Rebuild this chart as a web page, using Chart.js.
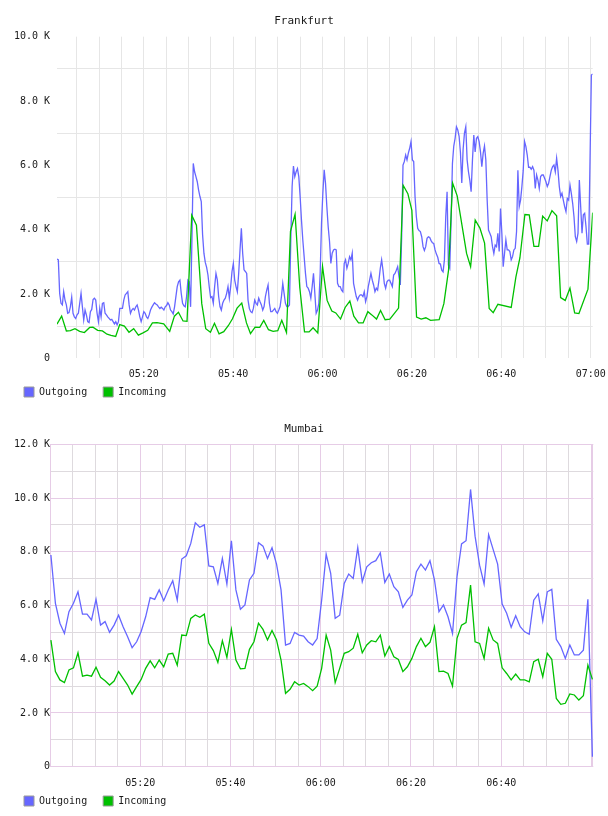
<!DOCTYPE html>
<html><head><meta charset="utf-8">
<script src="https://cdn.jsdelivr.net/npm/chart.js@4.4.1/dist/chart.umd.min.js"></script>
<style>
html,body{margin:0;padding:0;background:#fff;overflow:hidden;width:608px;height:816px;}
canvas{position:absolute;left:0;}
</style></head><body>
<canvas id="fra" width="608" height="407" style="top:0"></canvas>
<canvas id="mum" width="608" height="407" style="top:409px"></canvas>
<script>
// x values are minutes after 05:00, y values are in thousands (K)
const START_HOUR = 5;
const xLabelTimes = ['05:20','05:40','06:00','06:20','06:40','07:00'];
const seriesNames = ['Outgoing','Incoming'];
const seriesColors = ['#6666ff','#00c000'];

// Frankfurt outgoing: evenly spaced samples from first to last time
const frankfurtOutgoingFirst = 0.59, frankfurtOutgoingLast = 120.45;
const frankfurtOutgoing = [
3.09,3.06,2.02,1.71,1.66,2.07,1.81,1.66,1.40,1.42,
1.60,1.90,1.40,1.29,1.24,1.35,1.40,1.71,2.02,1.60,
1.19,1.50,1.35,1.14,1.11,1.45,1.52,1.83,1.87,1.81,
1.40,1.14,1.55,1.29,1.71,1.73,1.40,1.35,1.29,1.24,
1.19,1.21,1.14,1.07,1.14,1.04,1.14,1.55,1.55,1.55,
1.81,1.97,2.02,2.07,1.66,1.40,1.50,1.55,1.50,1.60,
1.66,1.50,1.29,1.14,1.29,1.45,1.40,1.29,1.24,1.35,
1.50,1.59,1.66,1.73,1.69,1.66,1.60,1.55,1.59,1.55,
1.50,1.60,1.64,1.73,1.66,1.50,1.45,1.38,1.60,1.92,
2.23,2.38,2.43,2.02,1.71,1.63,1.60,1.92,2.43,2.38,
1.60,3.68,6.06,
5.80,5.65,5.49,5.23,5.03,4.87,3.83,3.26,2.98,2.83,
2.59,2.21,1.89,1.92,1.71,2.23,2.64,2.44,1.92,1.61,
1.50,1.71,1.81,1.87,2.02,2.23,1.87,2.23,2.70,2.95,
2.44,2.23,2.07,2.64,3.37,4.04,3.26,2.75,2.70,2.64,
1.81,1.55,1.45,1.42,1.55,1.81,1.71,1.66,1.87,1.76,
1.66,1.50,1.61,1.92,2.12,2.28,1.71,1.45,1.45,1.50,
1.55,1.45,1.40,1.50,1.61,1.92,2.33,2.02,1.71,1.61,
1.61,1.66,3.68,5.34,5.98,5.65,5.80,5.90,5.65,5.03,
4.30,3.68,3.16,2.64,2.23,2.18,2.07,1.87,2.23,2.64,
2.02,1.40,1.50,1.71,2.64,4.19,5.13,5.86,5.44,4.71,
4.09,
3.63,2.95,3.27,3.37,3.39,3.37,2.33,2.23,2.23,2.12,
2.07,2.95,3.06,2.80,2.95,3.16,3.06,3.27,2.33,2.12,
1.92,1.81,1.92,1.97,1.97,1.92,2.07,1.76,1.92,2.23,
2.43,2.64,2.43,2.28,2.07,2.18,2.12,2.43,2.80,3.06,
2.74,2.33,2.18,2.38,2.43,2.43,2.33,2.23,2.59,2.64,
2.74,2.85,2.54,2.28,3.78,6.01,6.12,6.32,6.17,6.38,
6.53,6.74,6.17,6.12,5.03,4.40,4.04,3.97,3.94,3.78,
3.47,3.35,3.47,3.73,3.78,3.76,3.66,3.59,3.57,3.37,
3.24,3.14,2.95,2.93,2.74,2.69,3.06,4.40,5.18,2.90,
2.80,4.30,6.06,6.60,6.84,7.20,7.10,6.90,6.40,5.45,
6.50,7.00,
7.20,6.17,5.80,5.54,5.18,6.17,6.94,6.42,6.84,6.89,
6.74,6.42,5.96,6.37,6.60,6.17,4.92,3.99,3.89,3.78,
3.47,3.26,3.52,3.47,3.89,3.32,4.66,3.89,2.85,3.26,
3.68,3.37,3.37,3.32,3.06,3.16,3.37,3.42,3.94,5.85,
4.72,4.92,5.34,5.85,6.74,6.58,6.32,5.94,5.94,5.88,
5.96,5.85,5.28,5.70,5.54,5.28,5.65,5.70,5.70,5.60,
5.49,5.34,5.44,5.65,5.85,5.96,6.01,5.80,6.22,5.85,
5.34,5.03,5.13,4.92,4.72,4.56,4.97,4.92,5.39,5.13,
4.82,4.40,3.78,3.63,3.89,5.54,4.72,3.89,4.46,4.51,
4.09,3.55,3.55,6.17,8.81,8.84
];

// Frankfurt incoming: sample times (minutes after 05:00) and values
const frankfurtIncomingTimes = [
0.58,1.63,2.69,3.58,4.61,5.66,6.72,7.90,8.64,9.69,
10.75,11.78,12.67,13.72,14.62,15.67,16.70,17.75,18.80,19.83,
20.89,21.94,22.97,24.47,25.81,26.86,27.76,28.79,29.68,30.74,
31.79,32.98,33.87,34.92,35.82,36.85,37.90,38.95,39.85,40.88,
41.93,42.98,43.88,44.91,45.96,46.85,47.91,48.94,49.99,50.88,
51.94,52.83,53.86,54.91,55.97,57.00,57.89,58.94,60.00,61.03,
62.08,62.97,64.03,65.06,66.11,67.00,68.05,69.08,70.14,71.03,
72.08,72.98,74.01,75.06,77.01,78.04,79.09,79.99,81.04,82.07,
83.12,84.17,86.10,87.15,88.20,89.10,90.13,92.23,93.13,94.16,
95.21,96.26,97.29,98.19,99.24,102.22,103.27,104.16,105.28,106.25,
107.30,108.35,109.25,110.27,111.33,112.38,113.27,114.30,115.36,116.41,
117.37,119.39,120.44
];
const frankfurtIncoming = [
1.06,1.31,0.85,0.86,0.92,0.84,0.80,0.96,0.97,0.87,
0.85,0.75,0.71,0.68,1.05,1.00,0.81,0.92,0.72,0.79,
0.87,1.10,1.11,1.07,0.84,1.31,1.43,1.16,1.15,4.45,
4.14,1.70,0.92,0.81,1.09,0.76,0.83,1.02,1.23,1.56,
1.72,1.10,0.77,0.97,0.96,1.18,0.89,0.84,0.86,1.18,
0.80,3.95,4.48,2.20,0.82,0.82,0.95,0.79,2.86,1.80,
1.47,1.41,1.22,1.58,1.78,1.31,1.10,1.10,1.45,1.35,
1.22,1.49,1.20,1.22,1.56,5.38,5.12,4.60,1.28,1.22,
1.26,1.18,1.20,1.70,2.74,5.45,5.05,3.26,2.85,4.30,
4.05,3.58,1.55,1.42,1.68,1.58,2.53,3.12,4.47,4.46,
3.48,3.48,4.42,4.27,4.59,4.43,1.89,1.80,2.18,1.41,
1.39,2.15,4.53
];

// Mumbai: one sample per minute starting at mumbaiFirst
const mumbaiFirst = 0.2;
const mumbaiOutgoing = [
7.88,6.08,5.34,4.96,5.77,6.08,6.51,5.68,5.68,5.46,
6.23,5.27,5.40,5.00,5.27,5.64,5.21,4.84,4.43,4.65,
5.03,5.58,6.29,6.23,6.58,6.18,6.58,6.92,6.20,7.73,
7.85,8.31,9.08,8.91,9.00,7.47,7.44,6.82,7.75,6.80,
8.41,6.58,5.86,6.02,6.95,7.20,8.34,8.21,7.75,8.15,
7.54,6.58,4.53,4.59,5.00,4.90,4.86,4.65,4.53,4.77,
6.20,7.91,7.20,5.52,5.64,6.82,7.17,7.01,8.16,6.89,
7.44,7.59,7.67,7.96,6.86,7.17,6.70,6.51,5.93,6.20,
6.39,7.26,7.54,7.32,7.67,6.95,5.77,6.02,5.58,4.96,
7.07,8.29,8.41,10.32,8.58,7.50,6.80,8.64,8.09,7.54,
6.05,5.71,5.19,5.62,5.21,5.02,4.93,6.20,6.43,5.43,
6.51,6.60,4.74,4.47,4.03,4.53,4.16,4.16,4.34,6.23,
0.37
];
const mumbaiIncoming = [
4.71,3.54,3.23,3.13,3.60,3.68,4.24,3.37,3.41,3.37,
3.70,3.33,3.20,3.04,3.19,3.54,3.29,3.04,2.70,2.98,
3.25,3.66,3.94,3.68,3.97,3.72,4.19,4.22,3.78,4.90,
4.88,5.52,5.65,5.56,5.68,4.59,4.32,3.88,4.69,4.07,
5.11,3.97,3.64,3.66,4.37,4.65,5.34,5.11,4.72,5.07,
4.72,3.97,2.73,2.88,3.16,3.04,3.10,2.98,2.83,3.00,
3.66,4.90,4.34,3.13,3.66,4.22,4.28,4.41,4.93,4.24,
4.53,4.69,4.65,4.90,4.12,4.47,4.09,3.99,3.54,3.72,
4.03,4.47,4.78,4.47,4.63,5.21,3.54,3.56,3.47,3.00,
4.78,5.27,5.36,6.76,4.65,4.59,4.03,5.15,4.72,4.59,
3.68,3.47,3.23,3.45,3.23,3.23,3.16,3.91,4.00,3.35,
4.22,4.00,2.54,2.32,2.36,2.71,2.67,2.48,2.64,3.78,
3.25
];

const FONT = '"DejaVu Sans Mono", monospace';
const TEXT = '#1a1a1a';

const evenPoints = (vals, t0, t1) => vals.map((v, i) => ({x: t0 + i * (t1 - t0) / (vals.length - 1), y: v}));
const timedPoints = (ts, vals) => ts.map((t, i) => ({x: t, y: vals[i]}));
const minutePoints = (vals, t0) => vals.map((v, i) => ({x: t0 + i, y: v}));

function hhmm(m) {
  const total = START_HOUR * 60 + Math.round(m);
  return String(Math.floor(total / 60)).padStart(2, '0') + ':' + String(total % 60).padStart(2, '0');
}
function yLabel(v) {
  return v === 0 ? '0' : v.toFixed(1) + ' K';
}

// keep the title centred on the full canvas and let x tick labels extend below the axis box
const layoutTweaks = {
  id: 'layoutTweaks',
  afterLayout(chart) {
    const t = chart.titleBlock;
    if (t) { t.left = 0; t.right = chart.width; t.width = chart.width; }
    const x = chart.scales.x;
    if (x) { x.bottom = x.top + 30; }
  }
};
const framePlugin = {
  id: 'frame',
  beforeDatasetsDraw(chart, args, opts) {
    if (!opts || !opts.color) return;
    const {ctx, chartArea: a} = chart;
    ctx.save();
    ctx.strokeStyle = opts.color;
    ctx.lineWidth = opts.width || 1;
    ctx.strokeRect(Math.round(a.left) + 0.5, Math.round(a.top) + 0.5,
                   Math.round(a.right) - Math.round(a.left) - 1, Math.round(a.bottom) - Math.round(a.top) - 1);
    ctx.restore();
  }
};

function buildChart(id, c) {
  const mk = (i, pts) => ({
    label: seriesNames[i], data: pts,
    borderColor: seriesColors[i], backgroundColor: seriesColors[i],
    borderWidth: 1.3, pointRadius: 0, pointHoverRadius: 0, fill: false, tension: 0,
    order: i === 0 ? 1 : 0
  });
  return new Chart(document.getElementById(id), {
    type: 'line',
    data: {datasets: [mk(0, c.out), mk(1, c.inc)]},
    options: {
      responsive: false, animation: false, devicePixelRatio: 1,
      events: [],
      layout: {padding: {left: 8, right: c.padRight, top: 0, bottom: 0}},
      plugins: {
        title: {display: true, text: c.title, color: TEXT,
                font: {family: FONT, size: 11, weight: 'normal'},
                padding: {top: c.titleTop, bottom: c.titleBottom}},
        legend: {display: true, position: 'bottom', align: 'start',
          labels: {font: {family: FONT, size: 10}, color: TEXT, boxWidth: 10, boxHeight: 10, padding: 16,
            generateLabels: chart => Chart.defaults.plugins.legend.labels.generateLabels(chart)
              .sort((a, b) => a.datasetIndex - b.datasetIndex)
              .map(it => Object.assign(it, {fillStyle: seriesColors[it.datasetIndex], strokeStyle: '#9a9a9a', lineWidth: 1}))
          }},
        tooltip: {enabled: false},
        frame: {color: c.frameColor || null, width: 1}
      },
      scales: {
        x: {
          type: 'linear', min: c.xMin, max: c.xMax,
          afterBuildTicks: s => {
            const t = [];
            for (let v = 5 * Math.ceil(s.min / 5); v <= s.max + 1e-9; v += 5) t.push({value: v});
            s.ticks = t;
          },
          afterFit: s => { s.height = c.xAxisH; s.paddingLeft = 0; s.paddingRight = 0; },
          grid: {color: ctx => c.xGrid(ctx.tick ? ctx.tick.value : 0), drawTicks: false, lineWidth: 1},
          border: {display: false},
          ticks: {padding: c.xPad, color: TEXT, font: {family: FONT, size: 10}, maxRotation: 0, autoSkip: false,
            callback: v => {
              const s = hhmm(v);
              return (xLabelTimes.includes(s) && v <= c.lastLabel) ? s : '';
            }}
        },
        y: {
          min: 0, max: c.yMax,
          afterBuildTicks: s => {
            const t = [];
            for (let v = 0; v <= c.yMax; v += 1) t.push({value: v});
            s.ticks = t;
          },
          afterFit: s => { s.width = c.yAxisW; },
          grid: {color: ctx => c.yGrid(ctx.tick ? ctx.tick.value : 0), drawTicks: false, lineWidth: 1},
          border: {display: false},
          ticks: {padding: c.yPad, color: TEXT, font: {family: FONT, size: 10},
            callback: v => (v % 2 === 0 ? yLabel(v) : '')}
        }
      }
    },
    plugins: [layoutTweaks, framePlugin]
  });
}

const FRA_GRID = '#e6e6e6';
const MUM_MAJOR = '#e6cce6';
const MUM_MINOR = '#dedade';

buildChart('fra', {
  title: 'Frankfurt',
  out: evenPoints(frankfurtOutgoing, frankfurtOutgoingFirst, frankfurtOutgoingLast),
  inc: timedPoints(frankfurtIncomingTimes, frankfurtIncoming),
  xMin: frankfurtOutgoingFirst, xMax: frankfurtOutgoingLast, lastLabel: 120,
  yMax: 10, padRight: 15.3, yAxisW: 49, yPad: 7, xAxisH: 12.7, xPad: 10.5,
  titleTop: 14.4, titleBottom: 9.1,
  xGrid: v => FRA_GRID,
  yGrid: v => (v % 2 === 1 ? FRA_GRID : 'rgba(0,0,0,0)')
});

buildChart('mum', {
  title: 'Mumbai',
  out: minutePoints(mumbaiOutgoing, mumbaiFirst),
  inc: minutePoints(mumbaiIncoming, mumbaiFirst),
  xMin: 0, xMax: 120.4, lastLabel: 100,
  yMax: 12, padRight: 14.7, yAxisW: 42, yPad: 0, xAxisH: 13.3, xPad: 10.5,
  titleTop: 13.9, titleBottom: 8.2,
  frameColor: MUM_MAJOR,
  xGrid: v => (v % 20 === 0 ? MUM_MAJOR : MUM_MINOR),
  yGrid: v => (v % 2 === 0 ? MUM_MAJOR : MUM_MINOR)
});
</script>
</body></html>
